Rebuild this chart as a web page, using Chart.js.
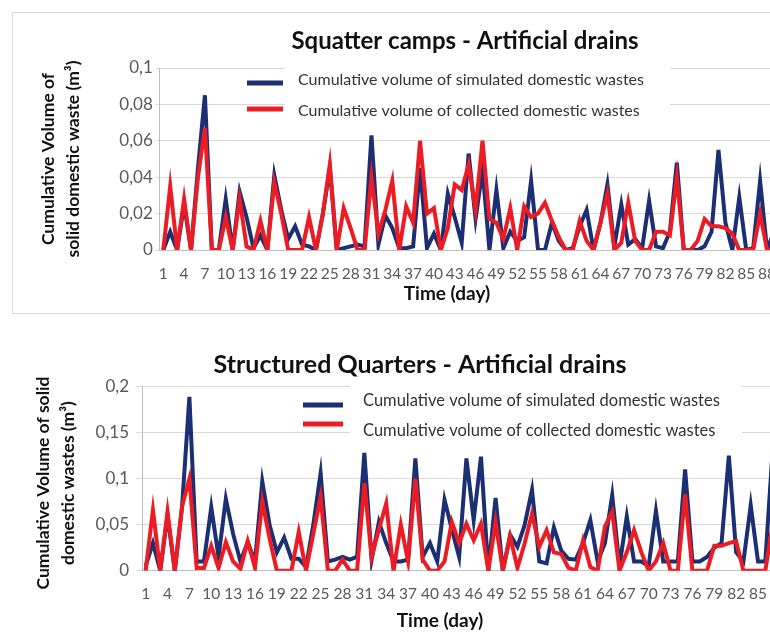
<!DOCTYPE html>
<html>
<head>
<meta charset="utf-8">
<script src="https://cdn.jsdelivr.net/npm/chart.js@4.4.1/dist/chart.umd.min.js"></script>
<style>
html,body{margin:0;padding:0;background:#fff;overflow:hidden;width:770px;height:635px;}
#wrap{position:relative;width:770px;height:635px;overflow:hidden;background:#fff;}
#box{position:absolute;left:12px;top:12px;width:820px;height:302px;border:1px solid #d9d9d9;box-sizing:border-box;}
#c1{position:absolute;left:0;top:0;}
#c2{position:absolute;left:0;top:320px;}
</style>
</head>
<body>
<div id="wrap">
<div id="box"></div>
<canvas id="c1" width="800" height="320"></canvas>
<canvas id="c2" width="810" height="315"></canvas>
</div>
<script>
// ---- data ----
const days = [1,2,3,4,5,6,7,8,9,10,11,12,13,14,15,16,17,18,19,20,21,22,23,24,25,26,27,28,29,30,
  31,32,33,34,35,36,37,38,39,40,41,42,43,44,45,46,47,48,49,50,51,52,53,54,55,56,57,58,59,60,
  61,62,63,64,65,66,67,68,69,70,71,72,73,74,75,76,77,78,79,80,81,82,83,84,85,86,87,88,89,90];

const seriesNames = ['Cumulative volume of simulated domestic wastes', 'Cumulative volume of collected domestic wastes'];

const squatterSimulated = [0,0.01,0,0.025,0,0.045,0.085,0,0,0.028,
  0,0.032,0.018,0.001,0.008,0,0.041,0.022,0.006,0.013,
  0.003,0.002,0,0.02,0.045,0,0.001,0.002,0.003,0.002,
  0.063,0.003,0.019,0.012,0.001,0.001,0.002,0.045,0.001,0.009,
  0,0.031,0.018,0.004,0.053,0.017,0.044,0,0.033,0.001,
  0.01,0.005,0.007,0.038,0,0,0.015,0.005,0,0.001,
  0.013,0.022,0,0.015,0.036,0.002,0.025,0.003,0.006,0.001,
  0.027,0.002,0.001,0.01,0.048,0,0,0,0.002,0.01,
  0.055,0.015,0,0.029,0,0.001,0.038,0,0.01,0];

const squatterCollected = [0,0.035,0,0.028,0,0.04,0.067,0,0,0.018,
  0,0.028,0.002,0,0.016,0,0.037,0.02,0,0,
  0,0.018,0,0.02,0.047,0,0.023,0.012,0,0,
  0.04,0.009,0.022,0.038,0,0.024,0.015,0.06,0.02,0.023,
  0,0.012,0.036,0.033,0.047,0.022,0.06,0.017,0.015,0.006,
  0.023,0,0.024,0.018,0.02,0.026,0.016,0.007,0,0,
  0.016,0.005,0,0.015,0.031,0,0.004,0.026,0.005,0,
  0,0.01,0.01,0.008,0.04,0,0,0.005,0.017,0.013,
  0.013,0.012,0.009,0,0,0,0.02,0,0,0];

const structuredSimulated = [0.005,0.03,0,0.06,0,0.07,0.189,0.01,0.01,0.069,
  0.015,0.078,0.04,0.01,0.031,0.01,0.097,0.05,0.02,0.036,
  0.013,0.013,0.004,0.05,0.106,0.01,0.012,0.015,0.012,0.015,
  0.128,0.012,0.053,0.03,0.01,0.01,0.012,0.122,0.015,0.03,
  0.01,0.077,0.045,0.015,0.122,0.055,0.124,0,0.079,0,
  0.039,0.026,0.05,0.088,0.01,0.008,0.047,0.022,0.013,0.012,
  0.03,0.055,0.01,0.03,0.082,0.005,0.059,0.01,0.01,0.005,
  0.065,0.01,0.01,0.01,0.11,0.01,0.01,0.015,0.025,0.03,
  0.125,0.02,0.01,0.071,0.01,0.01,0.13,0.02,0,0];

const structuredCollected = [0,0.066,0,0.064,0,0.07,0.1,0.003,0.003,0.027,
  0.003,0.031,0.01,0.002,0.032,0.003,0.075,0.035,0,0,
  0,0.042,0,0.04,0.08,0,0,0.012,0,0,
  0.095,0.015,0.045,0.073,0,0.05,0.01,0.1,0.012,0,
  0,0.01,0.053,0.03,0.051,0.033,0.051,0,0.053,0,
  0.037,0.003,0.03,0.062,0.026,0.044,0.02,0.018,0.003,0,
  0.033,0.004,0,0.048,0.064,0,0.02,0.044,0.02,0,
  0.01,0.03,0,0,0.083,0,0,0,0.027,0.027,
  0.03,0.032,0,0,0,0,0.05,0,0,0];

const titleTop = 'Squatter camps - Artificial drains';
const titleBottom = 'Structured Quarters - Artificial drains';
const xTitle = 'Time (day)';
const yTitleTop = ['Cumulative Volume of', 'solid domestic waste (m\u00b3)'];
const yTitleBottom = ['Cumulative Volume of solid\u2002', 'domestic wastes (m\u00b3)\u2002'];

const BLUE = '#1b2f72';
const RED = '#ec1c24';
const FONT = 'Lato, "Open Sans", sans-serif';

// ---- overlay plugin: titles and in-plot legend ----
const overlay = {
  id: 'overlay',
  beforeDatasetsDraw(chart, args, o) {
    const ctx = chart.ctx;
    ctx.save();
    ctx.fillStyle = '#ffffff';
    ctx.fillRect(o.box[0], o.box[1], o.box[2], o.box[3]);
    ctx.restore();
  },
  afterDraw(chart, args, o) {
    const ctx = chart.ctx;
    ctx.save();
    ctx.textAlign = 'center';
    ctx.textBaseline = 'middle';
    ctx.fillStyle = '#111111';
    ctx.font = 'bold ' + o.titleSize + 'px ' + FONT;
    ctx.fillText(o.title, o.titlePos[0], o.titlePos[1]);
    ctx.font = 'bold 19px ' + FONT;
    ctx.fillText(o.xTitle, o.xTitlePos[0], o.xTitlePos[1]);
    ctx.textAlign = 'left';
    ctx.font = o.legendSize + 'px ' + FONT;
    chart.data.datasets.forEach((ds, i) => {
      const it = o.legend[i];
      ctx.strokeStyle = ds.borderColor;
      ctx.lineWidth = 5;
      ctx.beginPath();
      ctx.moveTo(it.line[0], it.line[2]);
      ctx.lineTo(it.line[1], it.line[2]);
      ctx.stroke();
      ctx.fillStyle = '#333333';
      ctx.fillText(ds.label, it.text[0], it.text[1]);
    });
    ctx.restore();
  }
};

function makeChart(id, sim, col, cfg) {
  return new Chart(document.getElementById(id), {
    type: 'line',
    data: {
      labels: days,
      datasets: [
        { label: seriesNames[0], data: sim, borderColor: BLUE, backgroundColor: BLUE, order: 1 },
        { label: seriesNames[1], data: col, borderColor: RED, backgroundColor: RED, order: 0 }
      ]
    },
    options: {
      responsive: false,
      animation: false,
      layout: { padding: cfg.padding },
      elements: {
        line: { tension: 0, borderWidth: 4, borderJoinStyle: 'miter' },
        point: { radius: 0, hoverRadius: 0 }
      },
      scales: {
        x: {
          type: 'category',
          offset: true,
          grid: { display: false, drawTicks: false },
          border: { display: true, color: '#bfbfbf', width: 1 },
          ticks: {
            autoSkip: false, maxRotation: 0, minRotation: 0,
            padding: cfg.xTickPad,
            color: '#595959',
            font: { family: FONT, size: 15.5 },
            callback: (v, i) => (i % 3 === 0 ? String(days[i]) : '')
          },
          afterFit: s => { s.height = cfg.xHeight; }
        },
        y: {
          min: 0, max: cfg.yMax,
          ticks: {
            stepSize: cfg.yStep,
            padding: cfg.yTickPad,
            color: '#595959',
            font: { family: FONT, size: 17 },
            callback: v => String(Number(v.toFixed(3))).replace('.', ',')
          },
          grid: { color: '#d9d9d9', lineWidth: 1, drawTicks: true, tickLength: cfg.tickLen },
          border: { display: true, color: '#bfbfbf', width: 1 },
          title: {
            display: true,
            text: cfg.yTitle,
            color: '#111111',
            font: { family: FONT, size: 17.5, weight: 'bold', lineHeight: 1.4286 },
            padding: { top: cfg.yTitlePad, bottom: 0 }
          },
          afterFit: s => { s.width = cfg.yWidth; }
        }
      },
      plugins: {
        legend: { display: false },
        tooltip: { enabled: false },
        title: { display: false },
        overlay: cfg.overlay
      }
    },
    plugins: [overlay]
  });
}

makeChart('c1', squatterSimulated, squatterCollected, {
  padding: { top: 68, bottom: 30, left: 0, right: 15.6 },
  xHeight: 40, xTickPad: 14.5,
  yWidth: 159.8, yTickPad: 3, tickLen: 4,
  yMax: 0.1, yStep: 0.02,
  yTitle: yTitleTop, yTitlePad: 35.8,
  overlay: {
    box: [285, 60, 385, 64],
    title: titleTop, titleSize: 24, titlePos: [465, 41],
    xTitle: xTitle, xTitlePos: [447, 294],
    legendSize: 16,
    legend: [ { line: [247, 283, 83], text: [298, 80] }, { line: [247, 283, 109], text: [298, 111] } ]
  }
});

makeChart('c2', structuredSimulated, structuredCollected, {
  padding: { top: 66.7, bottom: 24.3, left: 0, right: 11.9 },
  xHeight: 40, xTickPad: 14,
  yWidth: 142, yTickPad: 7, tickLen: 6,
  yMax: 0.2, yStep: 0.05,
  yTitle: yTitleBottom, yTitlePad: 30.8,
  overlay: {
    box: [350, 60, 392, 65],
    title: titleBottom, titleSize: 25, titlePos: [420, 45],
    xTitle: xTitle, xTitlePos: [440, 301],
    legendSize: 16.5,
    legend: [ { line: [303, 343, 85], text: [363, 81] }, { line: [303, 343, 104], text: [363, 111] } ]
  }
});
</script>
</body>
</html>
